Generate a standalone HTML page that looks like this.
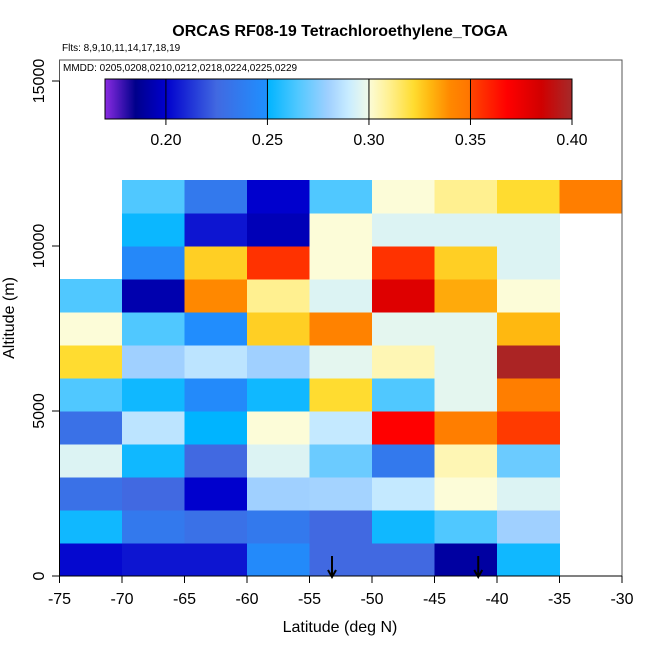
<!DOCTYPE html>
<html><head><meta charset="utf-8"><style>
body{margin:0;background:#fff}
svg{display:block;font-family:"Liberation Sans",sans-serif}
</style></head><body>
<svg id="chart" width="650" height="650" viewBox="0 0 650 650">
<defs>
<linearGradient id="cbar" x1="0" x2="1" y1="0" y2="0">
</linearGradient>
</defs>
<text x="340" y="36" text-anchor="middle" font-size="16" font-weight="bold">ORCAS RF08-19 Tetrachloroethylene_TOGA</text>
<text x="62" y="51" font-size="10">Flts: 8,9,10,11,14,17,18,19</text>
<g id="cells"></g>
<g id="arrows"></g>
<rect x="59.5" y="60" width="562.5" height="516" fill="none" stroke="#555" stroke-width="1"/>
<text x="63" y="71" font-size="10">MMDD: 0205,0208,0210,0212,0218,0224,0225,0229</text>
<rect x="105" y="79" width="467" height="40" fill="url(#cbar)" stroke="#000"/>
<g id="cbticks"></g>
<g id="xaxis"></g>
<g id="yaxis"></g>
<text x="340" y="632" text-anchor="middle" font-size="16">Latitude (deg N)</text>
<text transform="translate(14,318) rotate(-90)" text-anchor="middle" font-size="16">Altitude (m)</text>
</svg>
<script>
const latBins=[-75,-70,-65,-60,-55,-50,-45,-40,-35];
const altBins=[0,1000,2000,3000,4000,5000,6000,7000,8000,9000,10000,11000];
// values[row][col], row = altitude bin (bottom up)
const values=[
[0.202,0.205,0.205,0.246,0.225,0.225,0.19,0.253,null],
[0.253,0.235,0.23,0.235,0.225,0.253,0.265,0.28,null],
[0.23,0.225,0.20,0.28,0.281,0.289,0.30,0.295,null],
[0.295,0.253,0.225,0.295,0.27,0.235,0.305,0.27,null],
[0.23,0.287,0.25,0.30,0.289,0.368,0.345,0.353,null],
[0.265,0.253,0.246,0.253,0.322,0.265,0.297,0.345,null],
[0.322,0.28,0.287,0.28,0.297,0.305,0.297,0.398,null],
[0.30,0.265,0.248,0.325,0.343,0.297,0.297,0.33,null],
[0.265,0.193,0.34,0.31,0.295,0.38,0.333,0.30,null],
[null,0.245,0.325,0.355,0.30,0.355,0.325,0.295,null],
[null,0.252,0.205,0.195,0.30,0.295,0.295,0.295,null],
[null,0.265,0.235,0.20,0.265,0.30,0.31,0.322,0.345]
];
const xTicks=[-75,-70,-65,-60,-55,-50,-45,-40,-35,-30];
const yTicks=[0,5000,10000,15000];
const cbTicks=[0.20,0.25,0.30,0.35,0.40];
const arrowLats=[-53.2,-41.5];
const stops=[[0.17,"#8a2be2"],[0.185,"#00008b"],[0.2,"#0000cd"],[0.225,"#4169e1"],[0.2499,"#1e90ff"],[0.25,"#00b4ff"],[0.265,"#50c8ff"],[0.28,"#a0d0ff"],[0.29,"#c8ecff"],[0.2999,"#f0fae8"],[0.30,"#fcfcd8"],[0.31,"#fff090"],[0.322,"#ffdc30"],[0.33,"#ffb810"],[0.34,"#ff8800"],[0.3499,"#ff7400"],[0.35,"#ff4500"],[0.368,"#ff0000"],[0.385,"#d00000"],[0.40,"#a52a2a"]];
const X=v=>59.5+(v+75)*12.5;
const Y=v=>576-v*0.033;
const CB=v=>105+(v-0.17)/0.23*467;
const ns="http://www.w3.org/2000/svg";
function mk(t,a,p){const e=document.createElementNS(ns,t);for(const k in a)e.setAttribute(k,a[k]);p.appendChild(e);return e;}
function hex(h){return [1,3,5].map(i=>parseInt(h.substr(i,2),16));}
function color(v){v=Math.max(0.17,Math.min(0.4,v));for(let i=0;i<stops.length-1;i++){const[a,ca]=stops[i],[b,cb]=stops[i+1];if(v>=a&&v<=b){const t=(v-a)/(b-a),A=hex(ca),B=hex(cb);return "rgb("+A.map((x,j)=>Math.round(x+(B[j]-x)*t)).join(",")+")";}}return stops[stops.length-1][1];}
const g=document.getElementById("cbar");
stops.forEach(s=>{mk("stop",{offset:((s[0]-0.17)/0.23).toFixed(4),"stop-color":s[1]},g);});
const cells=document.getElementById("cells");
values.forEach((row,r)=>row.forEach((v,c)=>{if(v==null)return;
const e=mk("rect",{x:X(latBins[c]),y:Y(altBins[r]+1000),width:X(latBins[c]+5)-X(latBins[c])+0.5,height:Y(altBins[r])-Y(altBins[r]+1000)+0.5,fill:color(v)},cells);

}));
const ar=document.getElementById("arrows");
arrowLats.forEach(l=>{const x=X(l);
const e=mk("path",{d:`M${x},556 L${x},577 M${x-4},570 L${x},577 L${x+4},570`,stroke:"#000","stroke-width":2,fill:"none"},ar);

});
const cbt=document.getElementById("cbticks");
cbTicks.forEach(v=>{const x=CB(v);
mk("line",{x1:x,x2:x,y1:79,y2:125,stroke:"#000"},cbt);
const t=mk("text",{x:x,y:145,"text-anchor":"middle","font-size":16},cbt);t.textContent=v.toFixed(2);

});
const xa=document.getElementById("xaxis");
mk("line",{x1:X(-75),x2:X(-30),y1:576,y2:576,stroke:"#000"},xa);
xTicks.forEach(v=>{const x=X(v);mk("line",{x1:x,x2:x,y1:576,y2:583,stroke:"#000"},xa);
const t=mk("text",{x:x,y:604,"text-anchor":"middle","font-size":16},xa);t.textContent=v;

});
const ya=document.getElementById("yaxis");
mk("line",{x1:59.5,x2:59.5,y1:Y(0),y2:Y(15000),stroke:"#000"},ya);
yTicks.forEach(v=>{const y=Y(v);mk("line",{x1:52,x2:59.5,y1:y,y2:y,stroke:"#000"},ya);
const t=mk("text",{transform:`translate(44,${y}) rotate(-90)`,"text-anchor":"middle","font-size":16},ya);t.textContent=v;

});
</script>
</body></html>
